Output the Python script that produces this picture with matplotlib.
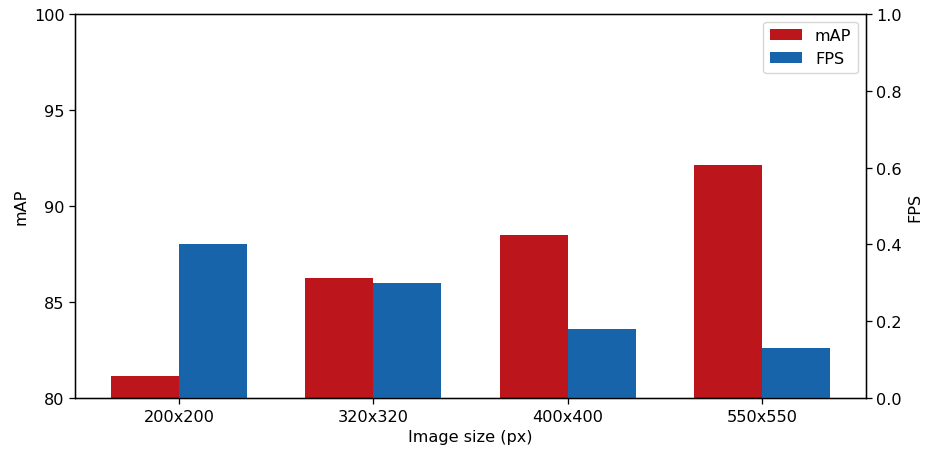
import matplotlib.pyplot as plt
import numpy as np

# mAP and FPS for each input resolution
sizes = ['200x200', '320x320', '400x400', '550x550']
map_vals = [81.15, 86.25, 88.5, 92.15]
fps_vals = [0.40, 0.30, 0.18, 0.13]

s = 1.16
plt.rcParams.update({
    'font.size': 10 * s,
    'axes.linewidth': 0.8 * s,
    'xtick.major.size': 3.5 * s,
    'ytick.major.size': 3.5 * s,
    'xtick.major.width': 0.8 * s,
    'ytick.major.width': 0.8 * s,
})

x = np.arange(len(sizes))
w = 0.35

fig, ax = plt.subplots(figsize=(9.28, 4.52), dpi=100)
fig.subplots_adjust(left=0.081, right=0.933, top=0.967, bottom=0.117)
ax2 = ax.twinx()

b1 = ax.bar(x - w / 2, map_vals, w, color='#bc151c', label='mAP')
b2 = ax2.bar(x + w / 2, fps_vals, w, color='#1864aa', label='FPS')

ax.set_ylim(80, 100)
ax.set_yticks([80, 85, 90, 95, 100])
ax2.set_ylim(0, 1.0)
ax.set_xticks(x)
ax.set_xticklabels(sizes)
ax.set_xlabel('Image size (px)')
ax.set_ylabel('mAP')
ax2.set_ylabel('FPS')

ax.legend([b1, b2], ['mAP', 'FPS'], loc='upper right')

plt.savefig('out.png')
